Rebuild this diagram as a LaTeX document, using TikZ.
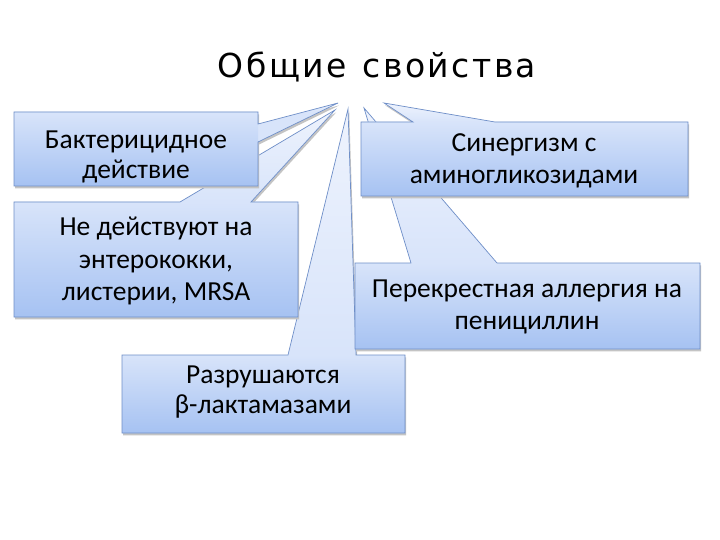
\documentclass[tikz,border=0pt]{standalone}
\usepackage{fontspec}
\setmainfont{Carlito}
\newfontfamily\titlefont{DejaVu Sans}
\definecolor{boxtop}{HTML}{D8E4FA}
\definecolor{boxbot}{HTML}{A6C2F2}
\definecolor{tipcol}{HTML}{EEF3FD}
\definecolor{boxline}{HTML}{6F8FC8}
\definecolor{shadowcol}{HTML}{C4C4C4}
\tikzset{
  outline/.style={draw=boxline, line width=0.7pt, line join=miter},
  shadowfill/.style={fill=shadowcol, xshift=1.2pt, yshift=-2.4pt},
  boxtext/.style={align=center, font=\fontsize{27.5}{32.5}\selectfont, text=black, inner sep=0pt},
  boxtextb/.style={align=center, font=\fontsize{27.5}{29.5}\selectfont, text=black, inner sep=0pt},
}
\newcommand\tk{\kern2.5pt}
% callout: #1 path, #2 box rectangle, #3 tip y, #4 box top y
\newcommand\drawcallout[4]{%
  \fill[shadowfill] #1;
  \begin{scope}
    \clip #1;
    \fill[boxtop] (0,0) rectangle (720,540);
    \shade[top color=tipcol, bottom color=boxtop] (0,#3) rectangle (720,#4);
    \shade[top color=boxtop, bottom color=boxbot] #2;
  \end{scope}
  \draw[outline] #1;
}
\begin{document}
\begin{tikzpicture}[x=1pt,y=-1pt]
\useasboundingbox (0,0) rectangle (720,540);
\fill[white] (0,0) rectangle (720,540);

\node[inner sep=0pt, anchor=base] (title) at (377,78) {\titlefont\fontsize{33}{40}\selectfont О\tk б\tk щ\tk и\tk е\tk{} \tk с\tk в\tk о\tk й\tk с\tk т\tk в\tk а};

% box 3: Разрушаются
\drawcallout{(122,355) -- (288,355) -- (348,109) -- (356,355) -- (405,355) -- (405,433) -- (122,433) -- cycle}{(122,355) rectangle (405,433)}{109}{355}
\node[boxtextb] (b3) at (263,392) {Разрушаются\\β-лактамазами};

% box 2: Не действуют
\drawcallout{(14,202) -- (180,202) -- (335,110) -- (251,202) -- (298,202) -- (298,317) -- (14,317) -- cycle}{(14,202) rectangle (298,317)}{110}{202}
\node[boxtext] (b2) at (156,261) {Не действуют на\\энтерококки,\\листерии, MRSA};

% box 1: Бактерицидное
\drawcallout{(14,112) -- (258,112) -- (258,124) -- (338,103) -- (258,142) -- (258,186) -- (14,186) -- cycle}{(14,112) rectangle (258,186)}{100}{112}
\node[boxtextb] (b1) at (136,157) {Бактерицидное\\действие};

% box 5: Перекрестная
\drawcallout{(355,263) -- (411,263) -- (364,108) -- (497,263) -- (700,263) -- (700,349) -- (355,349) -- cycle}{(355,263) rectangle (700,349)}{108}{263}
\node[boxtext] (b5) at (527,307) {Перекрестная аллергия на\\пенициллин};

% box 4: Синергизм
\drawcallout{(361,122) -- (413,122) -- (384,103) -- (495,122) -- (688,122) -- (688,196) -- (361,196) -- cycle}{(361,122) rectangle (688,196)}{103}{122}
\node[boxtext] (b4) at (524,161) {Синергизм с\\аминогликозидами};
\end{tikzpicture}
\end{document}
